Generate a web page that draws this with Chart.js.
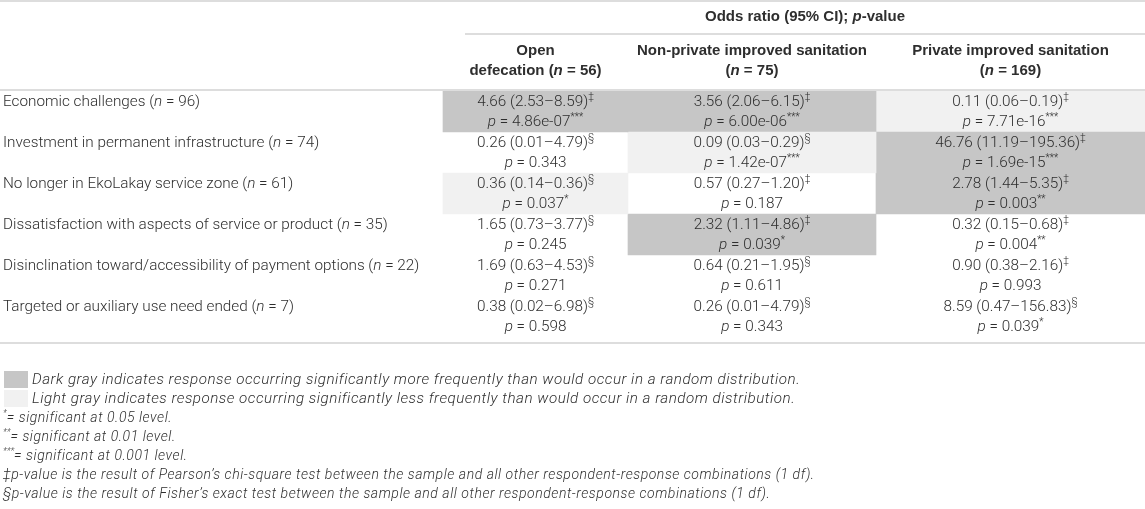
<!DOCTYPE html>
<html>
<head>
<meta charset="utf-8">
<script src="https://cdn.jsdelivr.net/npm/chart.js@4"></script>
<style>
  html, body { margin: 0; padding: 0; background: #ffffff; }
  #wrap { width: 1145px; height: 509px; position: relative; }
</style>
</head>
<body>
<div id="wrap"><canvas id="oddsTable"></canvas></div>
<script>
// rows of the table (reasons) and their sample sizes
const rowLabels = [
    'Economic challenges',
    'Investment in permanent infrastructure',
    'No longer in EkoLakay service zone',
    'Dissatisfaction with aspects of service or product',
    'Disinclination toward/accessibility of payment options',
    'Targeted or auxiliary use need ended'
];
const rowN = [96, 74, 61, 35, 22, 7];

// column groups
const columnTitles = [
    ['Open', 'defecation'],
    ['Non-private improved sanitation', ''],
    ['Private improved sanitation', '']
];
const columnN = [56, 75, 169];

// odds ratio with 95% CI, per column
const orOpen = ['4.66 (2.53–8.59)', '0.26 (0.01–4.79)', '0.36 (0.14–0.36)', '1.65 (0.73–3.77)', '1.69 (0.63–4.53)', '0.38 (0.02–6.98)'];
const orNonPrivate = ['3.56 (2.06–6.15)', '0.09 (0.03–0.29)', '0.57 (0.27–1.20)', '2.32 (1.11–4.86)', '0.64 (0.21–1.95)', '0.26 (0.01–4.79)'];
const orPrivate = ['0.11 (0.06–0.19)', '46.76 (11.19–195.36)', '2.78 (1.44–5.35)', '0.32 (0.15–0.68)', '0.90 (0.38–2.16)', '8.59 (0.47–156.83)'];

// test used: ‡ chi-square, § Fisher
const testOpen = ['‡', '§', '§', '§', '§', '§'];
const testNonPrivate = ['‡', '§', '‡', '‡', '§', '§'];
const testPrivate = ['‡', '‡', '‡', '‡', '‡', '§'];

// p-values and significance stars
const pOpen = ['4.86e-07', '0.343', '0.037', '0.245', '0.271', '0.598'];
const pNonPrivate = ['6.00e-06', '1.42e-07', '0.187', '0.039', '0.611', '0.343'];
const pPrivate = ['7.71e-16', '1.69e-15', '0.003', '0.004', '0.993', '0.039'];
const starsOpen = ['***', '', '*', '', '', ''];
const starsNonPrivate = ['***', '***', '', '*', '', ''];
const starsPrivate = ['***', '***', '**', '**', '', '*'];

// cell shading: 'more' = dark gray, 'less' = light gray
const shadeOpen = ['more', '', 'less', '', '', ''];
const shadeNonPrivate = ['more', 'less', '', 'more', '', ''];
const shadePrivate = ['less', 'more', 'more', '', '', ''];

const footnotes = [
    ['swatch-more', 'Dark gray indicates response occurring significantly more frequently than would occur in a random distribution.'],
    ['swatch-less', 'Light gray indicates response occurring significantly less frequently than would occur in a random distribution.'],
    ['*', '= significant at 0.05 level.'],
    ['**', '= significant at 0.01 level.'],
    ['***', '= significant at 0.001 level.'],
    ['', '‡p-value is the result of Pearson’s chi-square test between the sample and all other respondent-response combinations (1 df).'],
    ['', '§p-value is the result of Fisher’s exact test between the sample and all other respondent-response combinations (1 df).']
];

// layout (table column edges on the x scale)
const colEdges = [0, 443, 628, 876, 1145];
const DARK = '#c6c6c6';
const LIGHT = '#f1f1f1';
const TEXT = '#2e2e2e';
const RULE = '#d2d2d2';

const bodyFont = '"Roboto", "Liberation Sans", sans-serif';
const headFont = '"Liberation Sans", Arial, sans-serif';

const columns = [
    { or: orOpen, test: testOpen, p: pOpen, stars: starsOpen, shade: shadeOpen },
    { or: orNonPrivate, test: testNonPrivate, p: pNonPrivate, stars: starsNonPrivate, shade: shadeNonPrivate },
    { or: orPrivate, test: testPrivate, p: pPrivate, stars: starsPrivate, shade: shadePrivate }
];

function shadeColor(s) {
    if (s === 'more') return DARK;
    if (s === 'less') return LIGHT;
    return 'rgba(0,0,0,0)';
}

/**
 * Draws a list of styled runs on one line, aligned left or centre.
 */
function drawRuns(ctx, runs, x, y, align) {
    const spacing = r => r.spacing || '0px';
    let total = 0;
    runs.forEach(r => {
        ctx.font = r.font;
        ctx.letterSpacing = spacing(r);
        total += ctx.measureText(r.text).width;
    });
    let cx = align === 'center' ? x - total / 2 : x;
    ctx.textAlign = 'left';
    ctx.textBaseline = 'middle';
    runs.forEach(r => {
        ctx.font = r.font;
        ctx.letterSpacing = spacing(r);
        ctx.fillStyle = r.color || TEXT;
        ctx.fillText(r.text, cx, y + (r.dy || 0));
        cx += ctx.measureText(r.text).width;
    });
    ctx.letterSpacing = '0px';
}

const F = {
    base: `300 15.3px ${bodyFont}`,
    ital: `italic 300 15.3px ${bodyFont}`,
    sup: `300 10px ${bodyFont}`,
    bold: `bold 15px ${headFont}`,
    boldItal: `italic bold 15px ${headFont}`,
    legend: `italic 300 15.2px ${bodyFont}`,
    note: `italic 300 14px ${bodyFont}`,
    noteSup: `italic 300 9px ${bodyFont}`
};

const tablePlugin = {
    id: 'tablePlugin',
    afterDatasetsDraw(chart) {
        const ctx = chart.ctx;
        const xs = chart.scales.x;
        const ys = chart.scales.y;
        const area = chart.chartArea;
        const left = xs.getPixelForValue(colEdges[0]);
        const right = xs.getPixelForValue(colEdges[colEdges.length - 1]);
        ctx.save();

        // rules
        ctx.strokeStyle = RULE;
        ctx.lineWidth = 1.5;
        const rule = (x1, x2, y) => { ctx.beginPath(); ctx.moveTo(x1, y); ctx.lineTo(x2, y); ctx.stroke(); };
        rule(left, right, 1);
        rule(xs.getPixelForValue(colEdges[1]) + 22, right, 34);
        rule(left, right, area.top - 1);
        const bodyBottom = area.bottom + 6;
        rule(left, right, bodyBottom);

        // spanning header
        const spanCenter = (xs.getPixelForValue(colEdges[1]) + 22 + right) / 2;
        drawRuns(ctx, [
            { text: 'Odds ratio (95% CI); ', font: F.bold },
            { text: 'p', font: F.boldItal },
            { text: '-value', font: F.bold }
        ], spanCenter, 17, 'center');

        // column headers
        columnTitles.forEach((t, c) => {
            const cx = xs.getPixelForValue((colEdges[c + 1] + colEdges[c + 2]) / 2);
            drawRuns(ctx, [{ text: t[0], font: F.bold }], cx, 51, 'center');
            drawRuns(ctx, [
                { text: (t[1] ? t[1] + ' ' : '') + '(', font: F.bold },
                { text: 'n', font: F.boldItal },
                { text: ' = ' + columnN[c] + ')', font: F.bold }
            ], cx, 71, 'center');
        });

        // body
        rowLabels.forEach((label, r) => {
            const yc = ys.getPixelForValue(r);
            const y1 = yc - 9;
            const y2 = yc + 11;
            drawRuns(ctx, [
                { text: label + ' (', font: F.base },
                { text: 'n', font: F.ital },
                { text: ' = ' + rowN[r] + ')', font: F.base }
            ], left + 3, y1, 'left');

            columns.forEach((col, c) => {
                const cx = xs.getPixelForValue((colEdges[c + 1] + colEdges[c + 2]) / 2);
                drawRuns(ctx, [
                    { text: col.or[r], font: F.base },
                    { text: col.test[r], font: F.sup, dy: -5 }
                ], cx, y1, 'center');
                drawRuns(ctx, [
                    { text: 'p', font: F.ital },
                    { text: ' = ' + col.p[r], font: F.base },
                    { text: col.stars[r], font: F.sup, dy: -5 }
                ], cx, y2, 'center');
            });
        });

        // footnotes
        footnotes.forEach((fn, i) => {
            const y = bodyBottom + 37 + i * 19;
            if (fn[0].startsWith('swatch')) {
                ctx.fillStyle = fn[0] === 'swatch-more' ? DARK : LIGHT;
                ctx.fillRect(left + 4, y - 9, 24, 17);
                drawRuns(ctx, [{ text: fn[1], font: F.legend, spacing: '0.5px' }], left + 32, y, 'left');
            } else {
                drawRuns(ctx, [
                    { text: fn[0], font: F.noteSup, dy: -4 },
                    { text: fn[1], font: F.note, spacing: '0.55px' }
                ], left + 3, y, 'left');
            }
        });

        ctx.restore();
    }
};

new Chart(document.getElementById('oddsTable'), {
    type: 'bar',
    data: {
        labels: rowLabels,
        datasets: columns.map((col, c) => ({
            label: columnTitles[c].join(' '),
            data: col.shade.map(s => s ? [colEdges[c + 1], colEdges[c + 2]] : null),
            backgroundColor: col.shade.map(shadeColor),
            borderWidth: 0,
            barPercentage: 1,
            categoryPercentage: 1,
            grouped: false
        }))
    },
    options: {
        indexAxis: 'y',
        responsive: true,
        maintainAspectRatio: false,
        animation: false,
        layout: { padding: { top: 91, bottom: 172, left: 0, right: 0 } },
        plugins: { legend: { display: false }, tooltip: { enabled: false } },
        scales: {
            x: { type: 'linear', min: colEdges[0], max: colEdges[colEdges.length - 1], display: false },
            y: { display: false }
        }
    },
    plugins: [tablePlugin]
});
</script>
</body>
</html>
